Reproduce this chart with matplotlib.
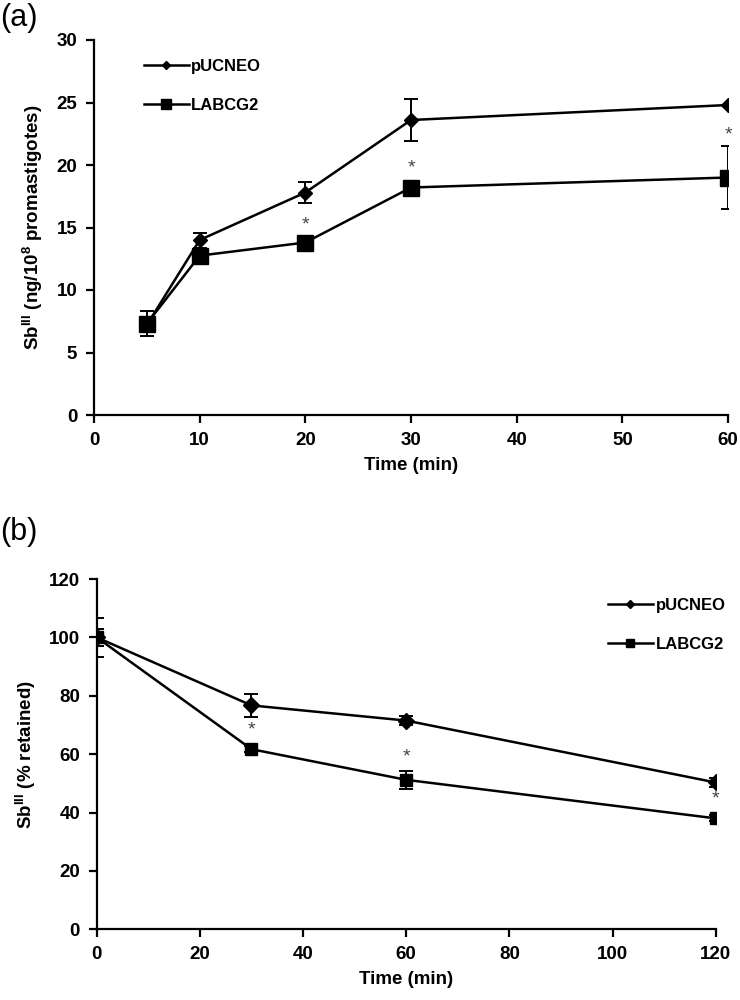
import matplotlib
matplotlib.use("Agg")
import matplotlib.pyplot as plt
from matplotlib.lines import Line2D

plt.rcParams["font.family"] = ["Liberation Sans", "DejaVu Sans"]
plt.rcParams["font.weight"] = "bold"
plt.rcParams["mathtext.fontset"] = "custom"
plt.rcParams["mathtext.rm"] = "Liberation Sans:bold"
plt.rcParams["mathtext.bf"] = "Liberation Sans:bold"
plt.rcParams["mathtext.default"] = "bf"

# panel (a): uptake
time_a = [5, 10, 20, 30, 60]
puc_a = [7.2, 14.0, 17.8, 23.6, 24.8]
puc_a_err = [0.5, 0.6, 0.85, 1.7, 0.0]
abc_a = [7.3, 12.75, 13.8, 18.2, 19.0]
abc_a_err = [1.0, 0.4, 0.3, 0.3, 2.55]
star_a_x = [20, 30, 60]
star_a_y = [15.2, 19.8, 22.4]

# panel (b): efflux
time_b = [0, 30, 60, 120]
puc_b = [100, 76.7, 71.5, 50.3]
puc_b_err = [6.6, 3.9, 1.5, 1.5]
abc_b = [100, 61.7, 51.2, 38.0]
abc_b_err = [3.0, 1.0, 3.0, 1.0]
star_b_x = [30, 60, 120]
star_b_y = [68.3, 59.0, 44.6]

labels = ["pUCNEO", "LABCG2"]

fig = plt.figure(figsize=(7.4, 10), dpi=100)
ax_a = fig.add_axes([0.127, 0.585, 0.857, 0.375])
ax_b = fig.add_axes([0.1307, 0.0707, 0.8365, 0.3503])

FS = 13.5


def style(ax):
    for s in ("top", "right"):
        ax.spines[s].set_visible(False)
    for s in ("left", "bottom"):
        ax.spines[s].set_linewidth(1.6)
    ax.tick_params(direction="out", length=6, width=1.6, labelsize=FS, pad=6)
    for lab in ax.get_xticklabels() + ax.get_yticklabels():
        lab.set_fontweight("bold")


def legend(ax, sq_ms, **kw):
    handles = [Line2D([], [], color="black", lw=1.8, marker="D", ms=4),
               Line2D([], [], color="black", lw=1.8, marker="s", ms=sq_ms)]
    leg = ax.legend(handles, labels, frameon=False, fontsize=12, handlelength=2.7,
                    labelspacing=1.45, handletextpad=0.15, **kw)
    for t in leg.get_texts():
        t.set_fontweight("bold")


# (a)
ax_a.errorbar(time_a, puc_a, yerr=puc_a_err, color="black", lw=1.8, marker="D",
              ms=7, capsize=5, elinewidth=1.4, capthick=1.4, zorder=3)
ax_a.errorbar(time_a, abc_a, yerr=abc_a_err, color="black", lw=1.8, marker="s",
              ms=12, capsize=5, elinewidth=1.4, capthick=1.4, zorder=3)
for x, y in zip(star_a_x, star_a_y):
    ax_a.text(x, y, "*", ha="center", va="center", fontsize=14, color="#444444",
              fontweight="normal")
ax_a.set_xlim(0, 60)
ax_a.set_ylim(0, 30)
ax_a.set_xticks(range(0, 61, 10))
ax_a.set_yticks(range(0, 31, 5))
ax_a.set_xlabel("Time (min)", fontsize=FS, fontweight="bold", labelpad=6)
ax_a.set_ylabel(r"Sb$^{III}$ (ng/10$^{8}$ promastigotes)", fontsize=FS,
                fontweight="bold", labelpad=8)
style(ax_a)
legend(ax_a, 7, loc="upper left", bbox_to_anchor=(0.055, 0.99))
fig.text(0.0, 0.982, "(a)", fontsize=22, fontweight="normal", va="center", ha="left")

# (b)
ax_b.errorbar(time_b, puc_b, yerr=puc_b_err, color="black", lw=1.8, marker="D",
              ms=8, capsize=5, elinewidth=1.4, capthick=1.4, zorder=3)
ax_b.errorbar(time_b, abc_b, yerr=abc_b_err, color="black", lw=1.8, marker="s",
              ms=8, capsize=5, elinewidth=1.4, capthick=1.4, zorder=3)
for x, y in zip(star_b_x, star_b_y):
    ax_b.text(x, y, "*", ha="center", va="center", fontsize=14, color="#444444",
              fontweight="normal")
ax_b.set_xlim(0, 120)
ax_b.set_ylim(0, 120)
ax_b.set_xticks(range(0, 121, 20))
ax_b.set_yticks(range(0, 121, 20))
ax_b.set_xlabel("Time (min)", fontsize=FS, fontweight="bold", labelpad=6)
ax_b.set_ylabel(r"Sb$^{III}$ (% retained)", fontsize=FS, fontweight="bold", labelpad=8)
style(ax_b)
legend(ax_b, 6, loc="upper right", bbox_to_anchor=(1.04, 0.99))
fig.text(0.0, 0.468, "(b)", fontsize=22, fontweight="normal", va="center", ha="left")

fig.savefig("out.png", dpi=100)
